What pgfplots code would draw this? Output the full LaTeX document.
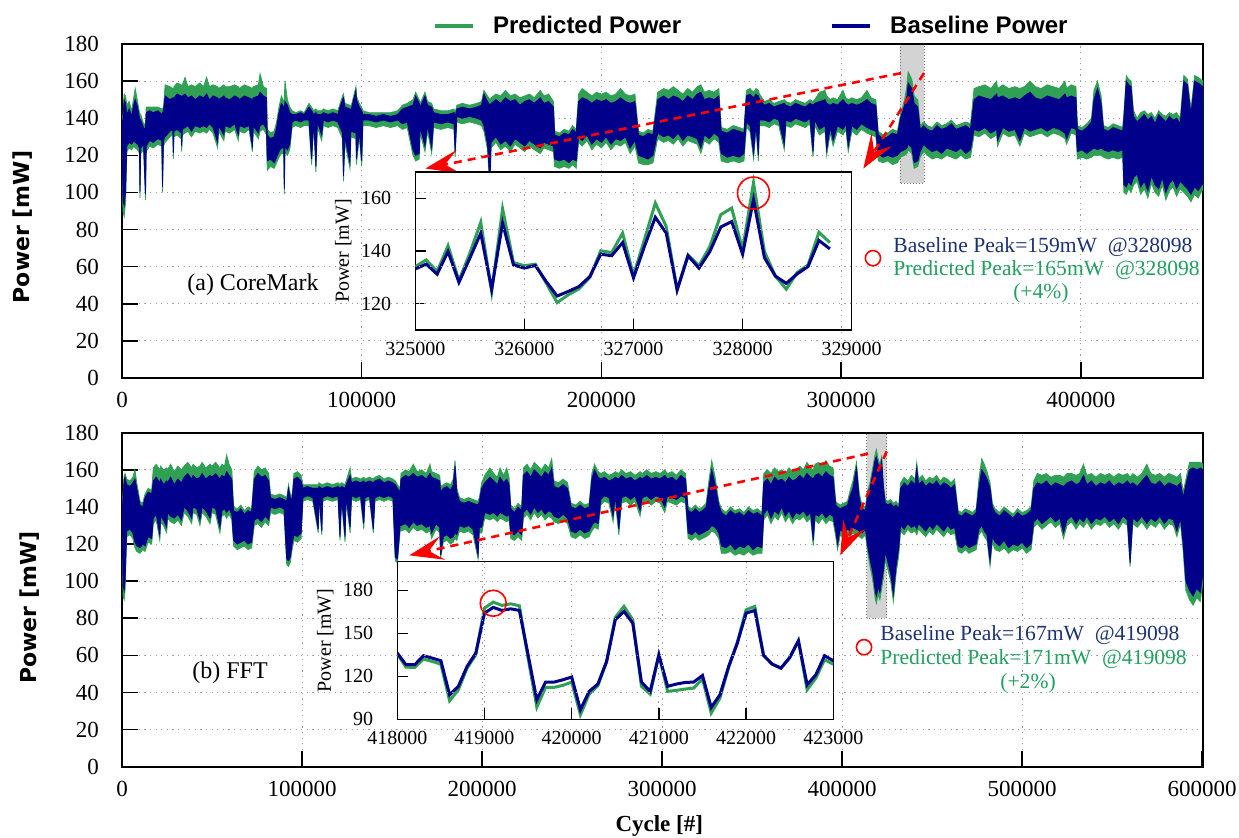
\documentclass[border=0pt]{standalone}
\usepackage{pgfplots}
\pgfplotsset{compat=1.18}
\usepackage{pgfplotstable}
\usepgfplotslibrary{fillbetween}
\usetikzlibrary{arrows.meta}
\usepackage{fontspec}
\setmainfont{Liberation Serif}
\newfontfamily\legfont{Liberation Sans}
\newfontfamily\ylabfont{DejaVu Sans}

\definecolor{pgreen}{RGB}{48,160,85}
\definecolor{pblue}{RGB}{0,0,139}
\definecolor{btext}{RGB}{30,50,115}
\definecolor{gtext}{RGB}{35,160,95}
\definecolor{boxgray}{RGB}{211,211,211}

% CoreMark trace envelopes: cycle, baseline hi/lo, predicted hi/lo
\pgfplotstableread{
c bh bl ph pl
0 136 130 137 128
400 140 96 142 90
900 150 93 153 87
1500 148 100 152 95
2000 142 125 147 122
3000 145 127 149 124
4000 141 126 144 123
5000 148 128 152 125
5500 150 127 156 124
6500 146 126 149 123
7300 140 124 143 121
7500 138 100 141 97
7800 139 124 142 121
9000 135 126 137 123
9800 134 99 137 96
10100 143 125 146 122
11500 144 128 146 125
13000 143 127 146 124
15000 144 129 146 126
16600 142 128 145 125
16900 143 103 145 100
17300 144 128 146 125
18000 152 130 158 127
20000 150 133 157 130
21200 151 134 156 131
21400 150 121 155 118
21700 151 133 157 130
23000 153 134 159 131
24700 152 132 158 129
24900 151 125 156 122
25200 152 134 158 131
26300 153 135 162 132
27500 151 136 157 133
29000 152 133 158 130
30500 150 136 157 133
32500 152 135 159 132
34000 151 136 157 133
35300 153 135 162 132
36500 150 137 157 134
38000 152 135 158 132
39900 151 127 157 124
40300 150 136 156 133
42500 152 131 158 128
43000 151 136 157 133
45000 150 135 157 132
47000 152 137 158 134
48500 151 131 157 128
49000 150 136 156 133
51000 152 135 158 132
53000 151 136 157 134
54400 150 125 156 122
54800 151 136 157 133
56900 152 132 158 129
57600 154 136 164 133
59000 152 137 157 134
60300 151 134 156 131
60600 131 117 134 112
62000 129 118 132 114
63500 130 116 133 113
64500 135 119 138 116
65500 143 122 146 119
66500 148 124 152 121
67500 146 124 149 121
67700 145 102 150 99
68000 149 125 160 122
69000 147 123 150 120
70000 143 126 146 123
71000 142 138 144 135
72500 142 139 143 136
74500 143 138 144 135
76000 142 139 143 136
78000 146 139 148 136
79100 144 118 146 115
80000 142 139 144 136
80900 143 114 145 111
81500 142 138 144 135
83300 142 131 144 128
84000 143 139 145 136
86000 142 138 144 135
88000 143 139 145 136
90000 142 138 144 135
92000 150 132 152 129
92400 151 109 153 106
93000 146 130 148 127
95100 145 116 147 113
95500 144 133 146 130
97600 155 132 157 129
97800 150 118 152 115
99000 146 133 148 130
100000 144 117 146 114
100500 142 139 144 136
103000 142 139 143 136
106000 141 138 143 135
109000 142 139 143 136
112000 141 138 143 135
115000 142 139 144 136
117000 145 137 147 134
119000 146 138 148 135
121400 147 123 150 120
122500 152 120 154 117
124000 148 121 150 118
124400 146 135 148 132
126400 152 125 154 122
127500 147 136 149 133
129200 146 124 148 121
130000 143 138 145 135
133000 142 137 144 134
136000 142 138 144 135
138500 143 137 145 134
139000 141 122 143 119
139700 145 141 147 138
142000 146 140 148 137
145000 145 141 147 138
148000 146 140 148 137
150000 147 139 149 136
151000 153 136 155 133
152500 149 126 152 123
153500 147 105 150 101
154000 148 127 151 124
156000 150 130 153 127
158000 148 126 152 123
160000 151 128 155 125
162000 149 125 152 122
164000 150 129 153 126
166000 147 127 151 124
168000 149 125 152 122
170000 150 128 153 125
172000 148 126 151 123
174500 151 124 155 121
176000 148 127 152 124
178000 149 126 153 123
180000 146 125 149 122
180500 131 118 133 114
182500 130 117 132 113
184500 132 118 134 114
186500 131 116 133 113
188000 134 118 136 115
189500 132 117 134 113
190500 149 130 153 127
192000 151 128 156 125
194000 150 131 154 128
196000 148 126 152 123
198000 150 129 154 126
200000 149 127 153 124
202000 150 130 154 127
204000 148 126 152 123
206000 149 129 153 126
208000 151 128 156 125
210000 149 130 153 127
212000 148 124 152 121
214000 149 128 153 125
215500 131 120 133 116
217500 130 119 132 115
219500 132 118 134 115
221500 131 120 133 116
223500 150 132 154 129
226000 152 130 156 127
228000 150 131 155 128
230000 152 129 157 126
232000 151 132 155 129
234000 149 128 153 125
236000 152 131 156 128
238000 150 130 154 127
240000 153 129 157 126
241500 154 124 158 121
243000 150 131 154 128
245000 151 129 155 126
247000 150 132 154 129
249000 152 130 156 127
250000 133 121 135 117
252500 132 119 134 116
255000 134 120 136 117
257500 133 119 135 116
259500 132 121 134 117
260500 152 138 155 135
262000 153 136 156 133
263500 151 121 154 118
264500 153 137 156 134
265500 152 120 155 117
266000 150 139 153 136
268000 147 139 149 136
270000 148 138 150 135
272000 146 140 148 137
274000 147 139 149 136
276300 148 126 150 123
277000 147 139 149 136
279000 146 138 148 135
281000 148 140 150 137
283000 147 139 149 136
285000 146 138 148 135
287000 148 140 150 137
288300 147 122 149 119
289000 148 139 150 136
291000 149 134 154 131
293300 150 136 155 133
294000 148 123 152 120
295500 147 135 150 132
296700 148 128 151 125
298500 147 136 150 133
300800 150 134 155 131
302000 148 137 151 134
303000 147 125 150 122
304500 148 136 151 133
306500 147 134 150 131
308500 148 137 151 134
310800 150 135 155 132
312500 148 134 151 131
314500 147 133 150 130
315500 131 121 133 117
317500 129 119 131 116
319500 130 120 132 117
321500 132 119 134 115
323500 131 120 133 116
324800 140 122 142 119
326500 147 123 150 120
327500 152 124 158 121
328000 159 126 165 123
329500 156 124 161 121
330500 148 116 152 113
332000 146 117 150 114
333000 134 122 136 119
334500 136 126 138 122
336000 134 124 136 120
338000 133 122 135 118
340000 136 123 138 119
342000 134 121 136 118
344000 135 124 137 120
346000 137 123 139 119
348000 134 122 136 118
350000 135 124 137 120
352000 136 121 138 118
354000 134 123 137 119
355500 150 134 156 131
357500 152 133 157 130
360000 151 135 158 132
362500 150 132 156 129
364900 153 134 160 131
365300 151 128 156 125
367500 152 135 158 132
370000 150 133 156 130
372500 151 134 157 131
374600 150 128 156 125
376500 152 135 157 132
378800 154 133 160 130
381000 151 134 157 131
383500 150 135 156 132
386000 152 133 158 130
388500 151 135 157 132
391000 150 134 156 131
393400 153 132 160 129
394100 151 129 156 126
396000 152 135 158 132
398000 151 134 157 131
398600 134 122 136 118
400500 133 123 135 119
402500 135 121 137 118
404500 138 123 140 119
405500 150 124 155 120
407000 156 123 160 120
408500 148 124 152 120
409500 134 123 136 119
411500 133 122 135 118
413500 135 123 137 119
415500 134 122 136 118
417500 133 123 135 119
418000 140 104 143 100
419000 160 103 163 99
420000 158 106 161 102
421000 157 104 160 100
422000 141 108 144 104
423500 138 110 140 106
425000 140 103 143 99
426500 142 106 144 102
428000 139 101 142 97
429500 141 109 143 105
431000 137 104 140 100
432500 142 102 144 98
434000 140 108 142 104
435500 138 100 141 96
437000 141 105 143 101
438500 139 107 142 103
440000 140 102 143 98
441500 137 106 140 102
443000 160 104 163 100
444500 158 102 161 98
446000 142 99 145 95
447500 160 103 163 99
449000 159 101 162 97
451000 157 105 160 102
}\coremark

% FFT trace envelopes
\pgfplotstableread{
c bh bl ph pl
0 138 132 139 130
600 145 98 147 92
1200 155 95 157 90
1700 156 100 158 95
2600 152 127 155 124
4500 151 128 154 125
6000 153 126 156 123
7200 155 121 160 118
8200 150 119 153 116
10000 141 118 143 115
11500 140 120 142 117
12800 145 119 147 116
14500 148 124 150 121
16500 147 123 149 120
17400 154 134 161 131
19000 156 136 163 133
21000 153 125 160 122
21500 155 135 162 132
23000 152 133 160 130
24800 154 129 161 126
25300 153 137 160 134
27000 156 135 163 132
29000 152 134 159 131
31000 155 136 162 133
33000 153 133 160 130
34500 156 140 162 137
36500 158 138 164 135
38700 155 134 161 131
39500 157 140 163 137
41500 155 139 161 136
43300 156 133 162 130
44500 158 140 164 137
46500 155 138 161 135
48900 157 134 163 131
50000 156 140 162 137
52000 158 139 164 136
54400 155 129 161 126
55500 157 138 163 135
57000 156 139 162 136
58100 159 137 168 134
59500 157 139 163 136
61000 155 136 160 133
62000 138 122 140 119
64000 137 120 139 117
66000 139 121 141 118
68000 136 122 138 119
70000 138 120 140 117
72000 137 121 139 118
73500 155 133 159 130
75500 158 134 162 131
77500 156 132 160 129
79500 157 135 161 132
81500 154 133 158 130
82500 145 140 147 137
85000 144 139 146 136
87500 145 140 147 137
90000 144 139 146 136
91500 143 112 145 109
92500 150 111 152 108
93500 145 113 147 110
94500 144 120 146 117
95500 155 125 158 122
97500 156 124 159 121
99500 154 126 157 123
100500 150 145 152 143
103000 151 146 152 144
106000 150 145 152 143
109000 150 128 152 126
109500 151 146 153 144
111000 150 127 152 125
111500 150 145 152 143
114000 151 146 153 144
117000 150 145 152 143
120000 151 146 153 144
121100 150 124 152 122
122000 151 145 153 143
123900 150 124 152 121
124500 152 146 154 143
126700 157 129 161 126
127500 153 146 155 144
130000 154 145 156 143
132500 153 146 155 144
134300 154 131 156 128
135000 153 145 155 143
137500 154 146 156 144
139600 153 128 155 126
140500 154 145 156 143
143000 155 146 157 144
145500 153 145 155 143
148000 154 146 156 144
150500 153 145 155 143
151800 152 113 154 111
153000 150 112 152 110
154500 148 130 150 127
155000 155 130 158 127
157500 157 131 160 128
159500 156 129 159 126
161800 158 132 163 129
164000 156 130 159 127
166500 157 131 160 128
169000 155 129 158 126
171100 158 130 163 127
172000 156 126 159 123
174500 155 131 158 128
176500 154 129 157 126
177000 148 114 151 112
178500 150 124 152 121
180500 151 125 153 122
182500 149 123 152 120
184000 152 124 155 121
185000 162 126 165 123
186000 148 125 150 122
187500 143 130 145 127
190000 142 129 144 126
192500 143 130 145 127
195000 142 128 144 125
197800 141 114 143 112
198500 143 129 145 126
199800 150 129 153 126
201500 153 137 157 134
204400 156 136 161 133
206500 154 137 158 134
208500 152 135 156 132
210000 156 137 161 134
212000 153 136 157 133
213700 155 135 161 132
215000 152 136 156 133
216000 139 126 141 123
218000 137 125 139 122
220000 140 127 142 124
222000 138 125 140 122
223000 157 137 161 134
225000 159 139 163 136
227000 156 136 160 133
229000 160 140 164 137
231000 158 137 162 134
233000 156 139 160 136
235000 159 136 163 133
237000 157 138 161 135
238700 161 137 166 134
240000 151 135 154 132
242500 150 134 153 131
245000 152 136 155 133
247500 150 134 153 131
249500 140 127 142 124
252000 139 126 141 123
254500 141 128 143 125
257000 139 126 141 123
259500 140 127 142 124
261000 155 130 158 127
262500 160 132 163 129
264500 156 131 159 128
266000 155 144 158 141
268000 156 146 159 143
270500 154 145 157 142
272800 155 135 158 132
274000 156 146 159 143
276000 155 128 158 125
277500 157 145 160 142
280000 155 146 158 143
282500 156 144 159 141
285000 154 146 157 143
287800 156 138 159 135
289000 155 145 158 142
291500 157 146 160 143
294000 155 144 158 141
296500 156 146 159 143
299000 155 145 158 142
301500 157 140 160 137
303000 155 146 158 143
305500 156 145 159 142
308000 154 144 157 141
310500 157 146 160 143
313000 155 145 158 142
314500 138 126 140 123
316500 137 125 139 122
318500 139 127 141 124
320500 137 125 139 122
322500 138 126 140 123
324500 140 127 142 124
326000 150 128 154 125
327600 160 130 165 127
329500 152 129 156 126
331500 141 126 143 123
333000 137 119 139 115
335500 135 118 137 115
338000 138 120 140 116
340500 136 117 138 114
343000 137 119 139 115
345500 135 118 137 114
348000 138 120 140 116
350500 136 117 138 114
353000 137 119 139 115
355500 135 118 137 115
356500 153 136 158 133
358500 155 139 160 136
360500 152 134 158 131
362500 156 138 161 135
364500 154 136 159 133
366500 155 140 160 137
368500 153 135 158 132
370500 156 138 161 135
372500 154 134 159 131
374500 155 137 160 134
376500 157 136 162 133
378500 155 138 160 135
380500 158 135 164 132
382500 156 137 161 134
384000 155 122 160 119
385000 157 136 163 133
387000 158 135 164 131
389000 156 137 162 134
391000 159 134 165 131
393000 157 136 162 133
395000 156 135 161 132
396500 141 127 143 124
397500 140 120 142 117
399000 139 128 141 125
401000 140 126 142 123
403000 141 128 143 125
404500 146 127 149 124
406000 150 129 154 126
408000 161 128 164 125
409500 145 127 148 124
411000 139 126 141 123
413000 138 128 140 125
414000 145 120 148 117
415500 150 112 153 108
417000 158 105 161 101
418500 166 94 169 90
419100 167 92 171 88
420000 163 97 166 93
421000 160 94 163 90
422000 165 100 167 96
423000 150 106 152 102
424000 142 116 144 112
425500 141 110 143 106
427000 142 104 144 100
428500 140 93 142 89
430000 141 108 143 104
431500 139 118 141 114
432500 150 130 153 127
434500 153 128 156 125
436500 151 131 154 128
438500 154 129 157 126
440500 152 130 155 127
441500 161 128 164 125
442500 152 131 155 128
444500 154 129 157 126
446500 151 127 154 124
448500 153 130 156 127
450500 152 128 155 125
452500 154 131 157 128
454500 151 129 154 126
456500 153 127 156 124
458500 152 130 155 127
460500 150 128 153 125
462500 152 129 155 126
464500 136 119 138 116
466500 135 118 137 115
468500 137 120 139 117
470500 136 118 138 115
472500 135 119 137 116
474500 137 120 139 117
476000 150 128 155 125
477600 160 130 166 127
479000 158 127 163 124
480500 155 125 159 122
482200 150 111 153 108
483500 140 124 142 121
485000 137 121 139 117
487500 135 119 137 116
490000 138 122 140 118
492500 136 118 138 115
495000 134 120 136 117
497500 137 119 139 116
500000 135 121 137 118
502500 136 118 138 115
505000 138 120 140 117
506500 150 132 154 129
508500 153 134 158 131
511000 152 131 157 128
513500 154 133 158 130
516000 151 135 156 132
518500 153 132 157 129
521000 152 134 157 131
523000 151 126 156 123
525000 153 133 158 130
527500 154 135 158 132
530000 152 131 157 128
532000 153 134 158 131
534100 157 132 163 129
536000 152 135 157 132
538500 154 131 158 128
541000 151 134 156 131
543500 153 133 158 130
546000 152 135 157 132
548500 154 132 158 129
551000 151 134 156 131
553500 153 131 158 128
556000 152 135 157 132
558500 154 133 158 130
560000 152 110 156 108
561500 153 134 158 131
564000 151 132 156 129
566500 154 135 158 132
569300 157 131 163 128
571500 153 134 158 131
574000 152 132 157 129
576500 154 135 158 132
579000 151 131 156 128
581500 153 134 158 131
584000 152 133 157 130
586000 151 127 156 124
588000 153 134 158 131
589500 145 120 148 116
591000 152 100 155 95
593000 160 95 164 90
595000 161 92 164 87
597000 160 96 164 91
599000 161 94 164 89
600500 160 104 163 100
}\fft

% zoomed windows: cycle, baseline, predicted
\pgfplotstableread{
c b p
325000 133.2 134.1
325100 135.0 136.6
325200 131.2 132.2
325300 139.8 142.0
325400 128.1 128.8
325500 137.3 139.2
325600 146.8 150.9
325700 125.5 124.6
325800 150.6 156.0
325900 134.7 135.6
326000 133.5 134.4
326100 134.5 135.0
326200 128.4 127.8
326300 122.9 120.4
326400 124.6 123.3
326500 126.5 125.6
326600 130.3 130.0
326700 138.8 140.1
326800 138.2 139.4
326900 143.2 146.8
327000 129.8 130.8
327100 141.7 144.3
327200 152.8 158.2
327300 146.8 149.3
327400 125.2 125.2
327500 138.2 138.5
327600 133.5 134.4
327700 139.8 141.7
327800 149.1 153.8
327900 151.2 156.3
328000 138.8 140.5
328100 159.5 165.9
328200 137.5 139.8
328300 130.5 130.5
328400 127.7 125.5
328500 131.3 131.8
328600 134.1 134.7
328700 144.0 147.1
328800 140.8 143.2
}\zoomcm

\pgfplotstableread{
c b p
418000 136.2 135.5
418100 128.1 126.4
418200 128.1 126.2
418300 134.4 132.0
418400 132.7 130.4
418500 130.9 128.5
418600 107.1 102.9
418700 113.0 110.6
418800 126.9 125.7
418900 136.2 135.0
419000 164.1 167.6
419100 168.1 171.8
419200 166.0 169.5
419300 167.1 170.6
419400 166.0 169.2
419500 135.0 132.7
419600 103.6 98.5
419700 116.0 112.3
419800 116.0 112.3
419900 117.6 113.7
420000 119.5 116.0
420100 96.7 93.2
420200 109.5 107.6
420300 114.6 113.4
420400 130.4 129.9
420500 159.5 161.1
420600 165.3 168.8
420700 157.1 159.5
420800 116.0 113.0
420900 109.5 107.6
421000 135.0 135.0
421100 113.0 109.5
421200 114.6 110.2
421300 115.7 111.1
421400 116.0 111.8
421500 120.6 118.3
421600 98.3 94.4
421700 107.1 104.8
421800 126.9 126.2
421900 143.2 143.9
422000 164.1 166.4
422100 166.0 168.8
422200 134.6 134.6
422300 128.5 128.5
422400 125.7 125.7
422500 133.2 132.7
422600 144.8 144.8
422700 114.1 110.6
422800 121.1 118.8
422900 134.4 131.6
423000 130.9 128.5
}\zoomfft

\tikzset{zoomarrow/.style={red, line width=1.3pt, dash pattern=on 4pt off 3pt,
    -{Stealth[length=17pt, width=12pt, inset=7pt]}}}

\pgfplotsset{
  mainax/.style={
    set layers,
    anchor=south west, scale only axis, width=540.5pt, height=167pt,
    ymin=0, ymax=180, ytick={0,20,40,60,80,100,120,140,160,180},
    tick pos=left, major tick length=8pt,
    grid=major, grid style={gray!75, line width=0.5pt, dash pattern=on 0.6pt off 2.2pt},
    axis line style={line width=1pt}, tick style={black, line width=0.8pt},
    scaled x ticks=false,
    ticklabel style={font=\fontsize{11.5}{13}\selectfont},
    xticklabel style={yshift=-3.5pt}, yticklabel style={xshift=-8pt},
    /pgf/number format/fixed, /pgf/number format/precision=0,
    /pgf/number format/1000 sep={}, /pgf/number format/assume math mode=true,
  },
  insetax/.style={
    anchor=south west, scale only axis,
    tick pos=left, major tick length=5.5pt,
    xmajorgrids, grid style={gray!75, line width=0.5pt, dash pattern=on 0.6pt off 2.2pt},
    axis background/.style={fill=white},
    axis line style={line width=0.7pt}, tick style={black, line width=0.7pt},
    scaled x ticks=false,
    ticklabel style={font=\fontsize{10}{12}\selectfont},
    xticklabel style={yshift=-2.5pt}, yticklabel style={xshift=-8.5pt},
    ylabel={Power [mW]},
    ylabel style={at={(axis description cs:-0.165,0.5)}, anchor=center, font=\fontsize{10}{12}\selectfont},
    /pgf/number format/fixed, /pgf/number format/precision=0,
    /pgf/number format/1000 sep={}, /pgf/number format/assume math mode=true,
  },
  gridonly/.style={
    anchor=south west, scale only axis, width=540.5pt, height=167pt,
    ymin=0, ymax=180, ytick={0,20,40,60,80,100,120,140,160,180},
    grid=major, grid style={gray!75, line width=0.5pt, dash pattern=on 0.6pt off 2.2pt},
    major tick length=0pt, xticklabels={}, yticklabels={},
    scaled x ticks=false, scaled y ticks=false,
    axis line style={draw=none},
  },
}

\begin{document}
\begin{tikzpicture}

% ---------- (a) CoreMark ----------
\begin{axis}[mainax, at={(61pt,229.5pt)},
  xmin=0, xmax=451000, xtick={0,100000,200000,300000,400000},
  ylabel={Power [mW]},
  ylabel style={at={(axis description cs:-0.092,0.452)}, anchor=center, font=\fontsize{11}{13}\selectfont\ylabfont\bfseries},
  legend columns=2,
  legend image code/.code={\draw[#1, line width=1.6pt] (0pt,0pt) -- (19pt,0pt); \path (27pt,0pt);},
  legend style={at={(axis description cs:0.2819,1.054)}, anchor=west, draw=none, fill=none,
    font=\fontsize{12}{14}\selectfont\legfont\bfseries,
    /tikz/every even column/.append style={column sep=72.5pt}},
]
\begin{pgfonlayer}{axis background}
\fill[boxgray, draw=black!55, densely dotted, line width=0.5pt] (axis cs:324600,105) rectangle (axis cs:334600,180);
\end{pgfonlayer}
\addplot[draw=none, name path=cph, forget plot] table[x=c, y=ph] {\coremark};
\addplot[draw=none, name path=cpl, forget plot] table[x=c, y=pl] {\coremark};
\addplot[fill=pgreen, draw=pgreen, line width=0.4pt, forget plot] fill between[of=cph and cpl];
\addplot[draw=none, name path=cbh, forget plot] table[x=c, y=bh] {\coremark};
\addplot[draw=none, name path=cbl, forget plot] table[x=c, y=bl] {\coremark};
\addplot[fill=pblue, draw=pblue, line width=0.4pt, forget plot] fill between[of=cbh and cbl];
\addlegendimage{pgreen}
\addlegendentry{Predicted Power}
\addlegendimage{pblue}
\addlegendentry{Baseline Power}
\draw[zoomarrow] (axis cs:325000,164.3) -- (axis cs:126600,112.9);
\draw[zoomarrow] (axis cs:334600,164.3) -- (axis cs:309300,112.9);
\node[font=\fontsize{12}{14}\selectfont] at (axis cs:54650,50) {(a) CoreMark};
\draw[red, line width=0.8pt] (axis cs:313300,64.6) circle (3.8pt);
\node[anchor=west, text=btext, font=\fontsize{10.8}{12}\selectfont, inner sep=0pt] at (axis cs:321700,70.5) {Baseline Peak=159mW\ \ @328098};
\node[anchor=west, text=gtext, font=\fontsize{10.8}{12}\selectfont, inner sep=0pt] at (axis cs:321700,58.1) {Predicted Peak=165mW\ \ @328098};
\node[text=gtext, font=\fontsize{10.8}{12}\selectfont, inner sep=0pt] at (axis cs:383400,45.7) {(+4\%)};
\end{axis}

\begin{axis}[insetax, at={(207.65pt,253.5pt)}, width=218.2pt, height=79pt,
  xmin=325000, xmax=329000, ymin=110, ymax=170,
  xtick={325000,326000,327000,328000,329000}, ytick={120,140,160}]
\addplot[pgreen, line width=1.5pt] table[x=c, y=p] {\zoomcm};
\addplot[pblue, line width=1.5pt] table[x=c, y=b] {\zoomcm};
\draw[red, line width=0.8pt] (axis cs:328100,162) circle (8pt);
\end{axis}

\begin{scope}
\clip (207.65pt,253.5pt) rectangle ++(218.2pt,79pt);
\begin{axis}[gridonly, at={(61pt,229.5pt)}, xmin=0, xmax=451000, xtick={0,100000,200000,300000,400000}]
\addplot[draw=none] coordinates {(0,0)};
\end{axis}
\end{scope}

% ---------- (b) FFT ----------
\begin{axis}[mainax, at={(61pt,35.15pt)},
  xmin=0, xmax=600500, xtick={0,100000,200000,300000,400000,500000,600000},
  ylabel={Power [mW]},
  ylabel style={at={(axis description cs:-0.0856,0.476)}, anchor=center, font=\fontsize{11}{13}\selectfont\ylabfont\bfseries},
  xlabel={Cycle [\#]},
  xlabel style={at={(axis description cs:0.497,-0.177)}, anchor=center, font=\fontsize{11.5}{13}\selectfont\bfseries},
]
\begin{pgfonlayer}{axis background}
\fill[boxgray, draw=black!55, densely dotted, line width=0.5pt] (axis cs:413700,80) rectangle (axis cs:424800,180);
\end{pgfonlayer}
\addplot[draw=none, name path=fph, forget plot] table[x=c, y=ph] {\fft};
\addplot[draw=none, name path=fpl, forget plot] table[x=c, y=pl] {\fft};
\addplot[fill=pgreen, draw=pgreen, line width=0.4pt, forget plot] fill between[of=fph and fpl];
\addplot[draw=none, name path=fbh, forget plot] table[x=c, y=bh] {\fft};
\addplot[draw=none, name path=fbl, forget plot] table[x=c, y=bl] {\fft};
\addplot[fill=pblue, draw=pblue, line width=0.4pt, forget plot] fill between[of=fbh and fbl];
\draw[zoomarrow] (axis cs:414500,168.7) -- (axis cs:159600,113.9);
\draw[zoomarrow] (axis cs:424800,169.9) -- (axis cs:399000,113.9);
\node[font=\fontsize{12}{14}\selectfont] at (axis cs:60000,50.5) {(b) FFT};
\draw[red, line width=0.8pt] (axis cs:412200,64.4) circle (3.8pt);
\node[anchor=west, text=btext, font=\fontsize{10.8}{12}\selectfont, inner sep=0pt] at (axis cs:421100,70.9) {Baseline Peak=167mW\ \ @419098};
\node[anchor=west, text=gtext, font=\fontsize{10.8}{12}\selectfont, inner sep=0pt] at (axis cs:421100,58) {Predicted Peak=171mW\ \ @419098};
\node[text=gtext, font=\fontsize{10.8}{12}\selectfont, inner sep=0pt] at (axis cs:503300,45) {(+2\%)};
\end{axis}

\begin{axis}[insetax, at={(198.65pt,58.85pt)}, width=218pt, height=78.8pt,
  xmin=418000, xmax=423000, ymin=90, ymax=200,
  xtick={418000,419000,420000,421000,422000,423000}, ytick={90,120,150,180}]
\addplot[pgreen, line width=1.5pt] table[x=c, y=p] {\zoomfft};
\addplot[pblue, line width=1.5pt] table[x=c, y=b] {\zoomfft};
\draw[red, line width=0.8pt] (axis cs:419100,171) circle (6.5pt);
\end{axis}

\begin{scope}
\clip (198.65pt,58.85pt) rectangle ++(218pt,78.8pt);
\begin{axis}[gridonly, at={(61pt,35.15pt)}, xmin=0, xmax=600500, xtick={0,100000,200000,300000,400000,500000,600000}]
\addplot[draw=none] coordinates {(0,0)};
\end{axis}
\end{scope}

\pgfresetboundingbox
\useasboundingbox (0pt,0pt) rectangle (619.5pt,418.5pt);
\end{tikzpicture}
\end{document}
